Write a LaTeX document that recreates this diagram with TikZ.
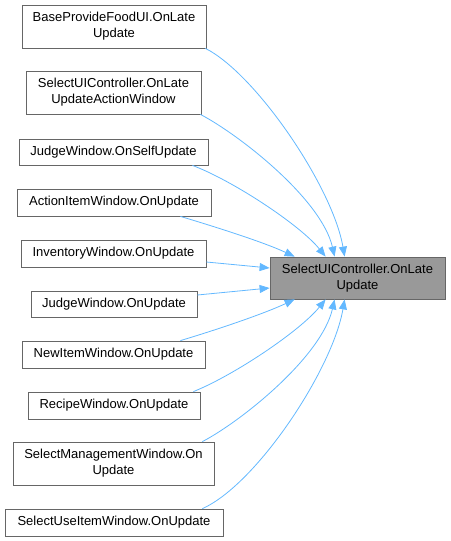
\documentclass[tikz,border=0pt]{standalone}
\usepackage{fontspec}
\setmainfont{Liberation Sans}
\usetikzlibrary{arrows.meta}

\definecolor{callerline}{HTML}{63B8FF}
\definecolor{boxline}{HTML}{666666}
\definecolor{targetfill}{HTML}{999999}

\tikzset{
    caller/.style={draw=boxline, line width=0.8pt, fill=white, inner sep=0pt,
        align=center, font=\fontsize{13}{16}\selectfont},
    target/.style={caller, fill=targetfill},
    callarrow/.style={draw=callerline, line width=0.8pt,
        -{Triangle[length=10pt,width=8pt]}}
}

\begin{document}
\begin{tikzpicture}[x=1pt, y=-1pt]
    \useasboundingbox (0,0) rectangle (450,541);

    % The method that is called by all the others
    \node[target, minimum width=175pt, minimum height=42pt] (t) at (357.5,278)
        {SelectUIController.OnLate\\Update};

    % Callers, stacked on the left
    \foreach \nm/\cx/\cy/\w/\h/\txt in {
        b1/114/26.5/184/43/{BaseProvideFoodUI.OnLate\\Update},
        b2/113.5/92.5/175/43/{SelectUIController.OnLate\\UpdateActionWindow},
        b3/113.5/152/189/26/{JudgeWindow.OnSelfUpdate},
        b4/114/202.5/194/27/{ActionItemWindow.OnUpdate},
        b5/113.5/253.5/185/27/{InventoryWindow.OnUpdate},
        b6/114/304/166/26/{JudgeWindow.OnUpdate},
        b7/113.5/354.5/183/27/{NewItemWindow.OnUpdate},
        b8/114/405.5/172/27/{RecipeWindow.OnUpdate},
        b9/113.5/463.5/201/43/{SelectManagementWindow.On\\Update},
        b10/114/522.5/218/27/{SelectUseItemWindow.OnUpdate}}{
        \node[caller, minimum width=\w pt, minimum height=\h pt] (\nm) at (\cx,\cy) {\txt};
    }

    % Calls from above the target
    \draw[callarrow] ([xshift=-1pt]b1.south east) .. controls +(50,25) and +(-12,-70) .. ([xshift=75pt]t.north west);
    \draw[callarrow] ([xshift=-1pt]b2.south east) .. controls +(40,21) and +(-13,-57) .. ([xshift=65pt]t.north west);
    \draw[callarrow] ([xshift=-16pt]b3.south east) .. controls +(40,15) and +(-26,-32) .. ([xshift=56pt]t.north west);
    \draw[callarrow] ([xshift=-31pt]b4.south east) .. controls +(40,12) and +(-30,-14) .. ([xshift=25pt]t.north west);
    % Straight calls into the left side
    \draw[callarrow] ([yshift=-8.5pt]b5.east) -- ([yshift=10pt]t.west);
    \draw[callarrow] ([yshift=9pt]b6.east) -- ([yshift=-10pt]t.west);
    % Calls from below the target
    \draw[callarrow] ([xshift=-25pt]b7.north east) .. controls +(40,-12) and +(-30,14) .. ([xshift=25pt]t.south west);
    \draw[callarrow] ([xshift=-7pt]b8.north east) .. controls +(40,-16) and +(-26,32) .. ([xshift=56pt]t.south west);
    \draw[callarrow] ([xshift=-12pt]b9.north east) .. controls +(40,-21) and +(-13,57) .. ([xshift=65pt]t.south west);
    \draw[callarrow] ([xshift=-21pt]b10.north east) .. controls +(54,-24) and +(-12,70) .. ([xshift=75pt]t.south west);

\end{tikzpicture}
\end{document}
